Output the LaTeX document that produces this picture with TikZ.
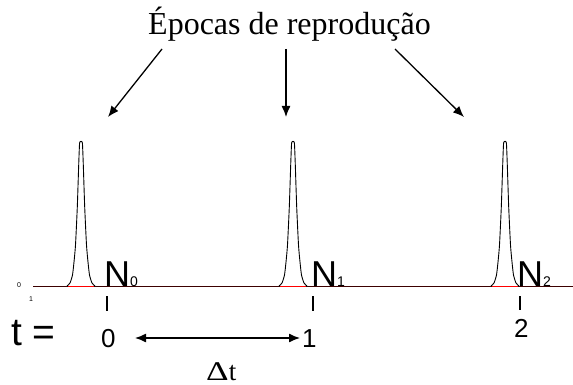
\documentclass[tikz,border=0pt]{standalone}
\usepackage{fontspec}
\setmainfont{Liberation Serif}
\newfontfamily\arial{Liberation Sans}
\usetikzlibrary{arrows.meta}
\definecolor{axisred}{RGB}{60,0,0}
\tikzset{
  peakline/.style={line width=0.9pt, black, line join=round},
  basered/.style={line width=1pt, red},
  tickmark/.style={line width=1.6pt, black},
  lbl/.style={inner sep=0pt, anchor=base west},
  pointer/.style={line width=1.3pt, -{Latex[length=11pt,width=9pt]}},
  interval/.style={line width=1.3pt, {Latex[length=11pt,width=9pt]}-{Latex[length=11pt,width=9pt]}}
}
\newcommand{\drawpeak}[1]{%
  \draw[peakline] plot[smooth, tension=0.35] coordinates {
    (#1-14,286) (#1-11,283) (#1-8.5,275) (#1-7,262) (#1-5.5,245) (#1-3.7,207) (#1-2.3,165) (#1-1.4,143)
    (#1,141.5)
    (#1+1.4,143) (#1+2.3,165) (#1+3.7,207) (#1+5.5,245) (#1+7,262) (#1+8.5,275) (#1+11,283) (#1+14,286)};
}
\begin{document}
\begin{tikzpicture}[x=1pt,y=-1pt]
\useasboundingbox (0,0) rectangle (573,385);
% title
\node[lbl, font=\fontsize{32}{32}\selectfont] (title) at (148,35) {Épocas de reprodução};
% axis
\coordinate (axL) at (33,286);
\coordinate (axR) at (573,286);
\draw[line width=1pt, axisred] (axL) -- (axR);
% peaks
\foreach \c in {81,293,505} {
  \draw[basered] (\c-13,286) -- (\c+13,286);
  \drawpeak{\c}
}
% pointer arrows
\coordinate (s1) at (162,49); \coordinate (e1) at (108,117);
\coordinate (s2) at (286,49); \coordinate (e2) at (286,117);
\coordinate (s3) at (395,49); \coordinate (e3) at (464,117);
\draw[pointer] (s1) -- (e1);
\draw[pointer] (s2) -- (e2);
\draw[pointer] (s3) -- (e3);
% N labels
\node[lbl, font=\arial\fontsize{36}{36}\selectfont] (N0) at (104,286) {N{\fontsize{14}{14}\selectfont 0}};
\node[lbl, font=\arial\fontsize{36}{36}\selectfont] (N1) at (311,286) {N{\fontsize{14}{14}\selectfont 1}};
\node[lbl, font=\arial\fontsize{36}{36}\selectfont] (N2) at (517,286) {N{\fontsize{14}{14}\selectfont 2}};
% ticks
\coordinate (t0a) at (107,296); \coordinate (t0b) at (107,311);
\coordinate (t1a) at (313,296); \coordinate (t1b) at (313,311);
\coordinate (t2a) at (520,296); \coordinate (t2b) at (520,310);
\draw[tickmark] (t0a) -- (t0b);
\draw[tickmark] (t1a) -- (t1b);
\draw[tickmark] (t2a) -- (t2b);
% small axis labels
\node[inner sep=0pt, font=\arial\fontsize{7}{7}\selectfont] (z0) at (19,285.5) {0};
\node[inner sep=0pt, font=\arial\fontsize{7}{7}\selectfont] (z1) at (31,299.5) {1};
% time labels
\node[lbl, font=\arial\fontsize{39}{39}\selectfont] (teq) at (11,345) {t =};
\node[lbl, font=\arial\fontsize{26}{26}\selectfont] (v0) at (101,347) {0};
\node[lbl, font=\arial\fontsize{26}{26}\selectfont] (v1) at (302,347) {1};
\node[lbl, font=\arial\fontsize{26}{26}\selectfont] (v2) at (514,337) {2};
% interval arrow
\coordinate (dA) at (135,338);
\coordinate (dB) at (300,338);
\draw[interval] (dA) -- (dB);
\node[lbl, font=\fontsize{27}{27}\selectfont] (dt) at (206,380.5) {\scalebox{1.3}[1]{Δ}t};
\end{tikzpicture}
\end{document}
